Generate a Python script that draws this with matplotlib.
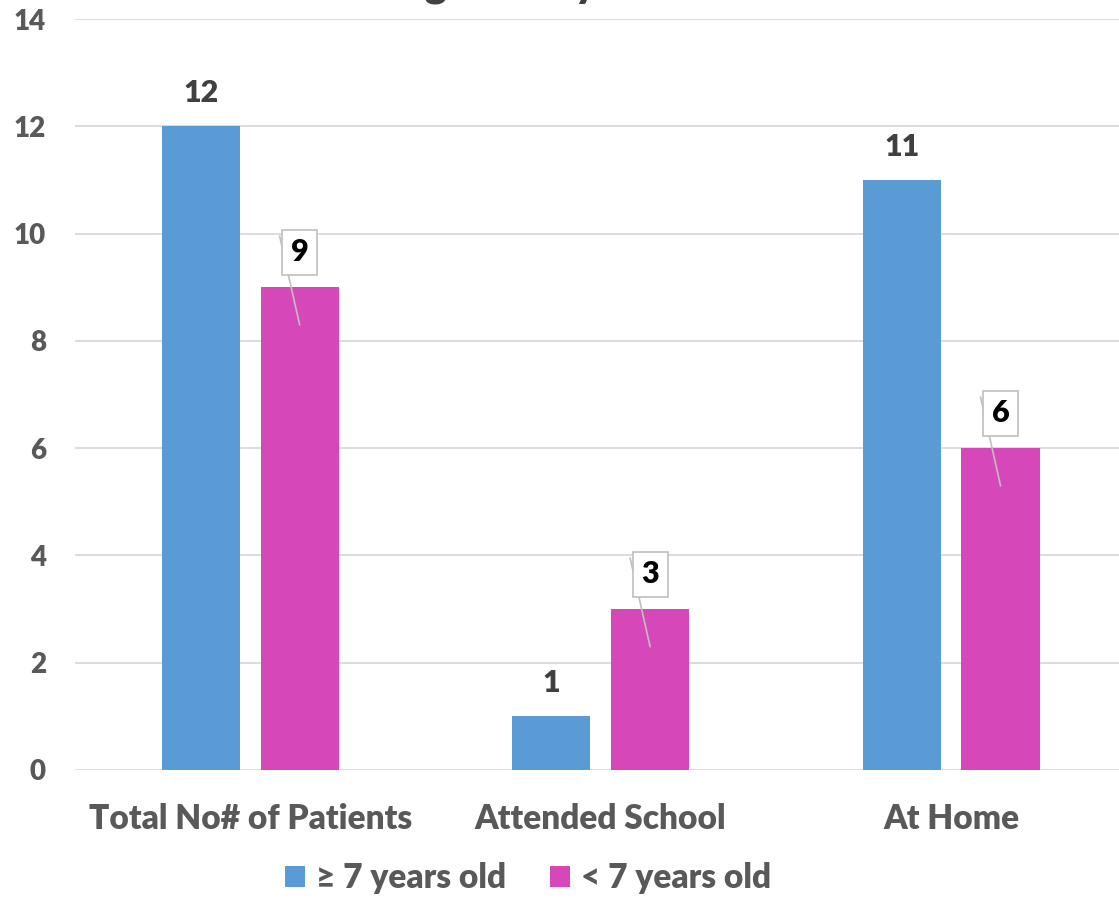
import matplotlib.pyplot as plt
import numpy as np

plt.rcParams['font.family'] = ['Lato', 'DejaVu Sans']
plt.rcParams['font.weight'] = 'heavy'

categories = ['Total No# of Patients', 'Attended School', 'At Home']
older = [12, 1, 11]     # >= 7 years old
younger = [9, 3, 6]     # < 7 years old
series_names = ['\u2265 7 years old', '< 7 years old']
yticks = [0, 2, 4, 6, 8, 10, 12, 14]

blue = '#5B9BD5'
pink = '#D647BA'
grey_txt = '#595959'
wt = 'heavy'

fig = plt.figure(figsize=(11.19, 8.98), dpi=100)
ax = fig.add_axes([75 / 1119, 1 - 770 / 898, 1044 / 1119, 751 / 898])

x = np.arange(len(categories))
w = 0.223
off = 0.141
ax.bar(x - off, older, w, color=blue, zorder=3, label=series_names[0])
ax.bar(x + off, younger, w, color=pink, zorder=3, label=series_names[1])

ax.set_xlim(-0.5, 2.479)
ax.set_ylim(0, 14)
ax.set_yticks(yticks)
ax.set_xticks(x)
ax.set_xticklabels(categories)
ax.grid(axis='y', color='#D9D9D9', linewidth=1.3, zorder=0)
for s in ax.spines.values():
    s.set_visible(False)
ax.tick_params(axis='both', length=0, colors=grey_txt)
ax.tick_params(axis='y', labelsize=20, pad=21)
ax.tick_params(axis='x', labelsize=24, pad=24)
for t in ax.get_yticklabels() + ax.get_xticklabels():
    t.set_fontweight(wt)

# values on top of the blue bars
for xi, v in zip(x - off, older):
    ax.annotate(str(v), (xi, v), xytext=(0, 24), textcoords='offset points',
                ha='center', va='center', fontsize=22, fontweight=wt,
                color='#404040')

# boxed callouts with leader lines for the pink bars
for xi, v in zip(x + off, younger):
    ax.plot([xi - 0.057, xi], [v + 0.95, v - 0.7], color='#BFBFBF',
            linewidth=1.2, zorder=4)
    ax.text(xi, v + 0.65, str(v), ha='center', va='center', fontsize=22,
            fontweight=wt, color='black', zorder=5,
            bbox=dict(boxstyle='square,pad=0.28', fc='white', ec='#BFBFBF',
                      lw=1.2))

leg = ax.legend(loc='center', bbox_to_anchor=(528 / 1119, 20 / 898),
                bbox_transform=fig.transFigure, ncol=2, frameon=False,
                fontsize=24, handlelength=0.6, handleheight=0.6,
                handletextpad=0.35, columnspacing=1.3)
for t in leg.get_texts():
    t.set_color(grey_txt)
    t.set_fontweight(wt)

# chart title, mostly above the top edge
fig.text(264 / 1119, 1 + 4 / 898, 'Schooling History', ha='left',
         va='baseline', fontsize=30, fontweight=wt, color='#404040')

fig.savefig('out.png', dpi=100)
